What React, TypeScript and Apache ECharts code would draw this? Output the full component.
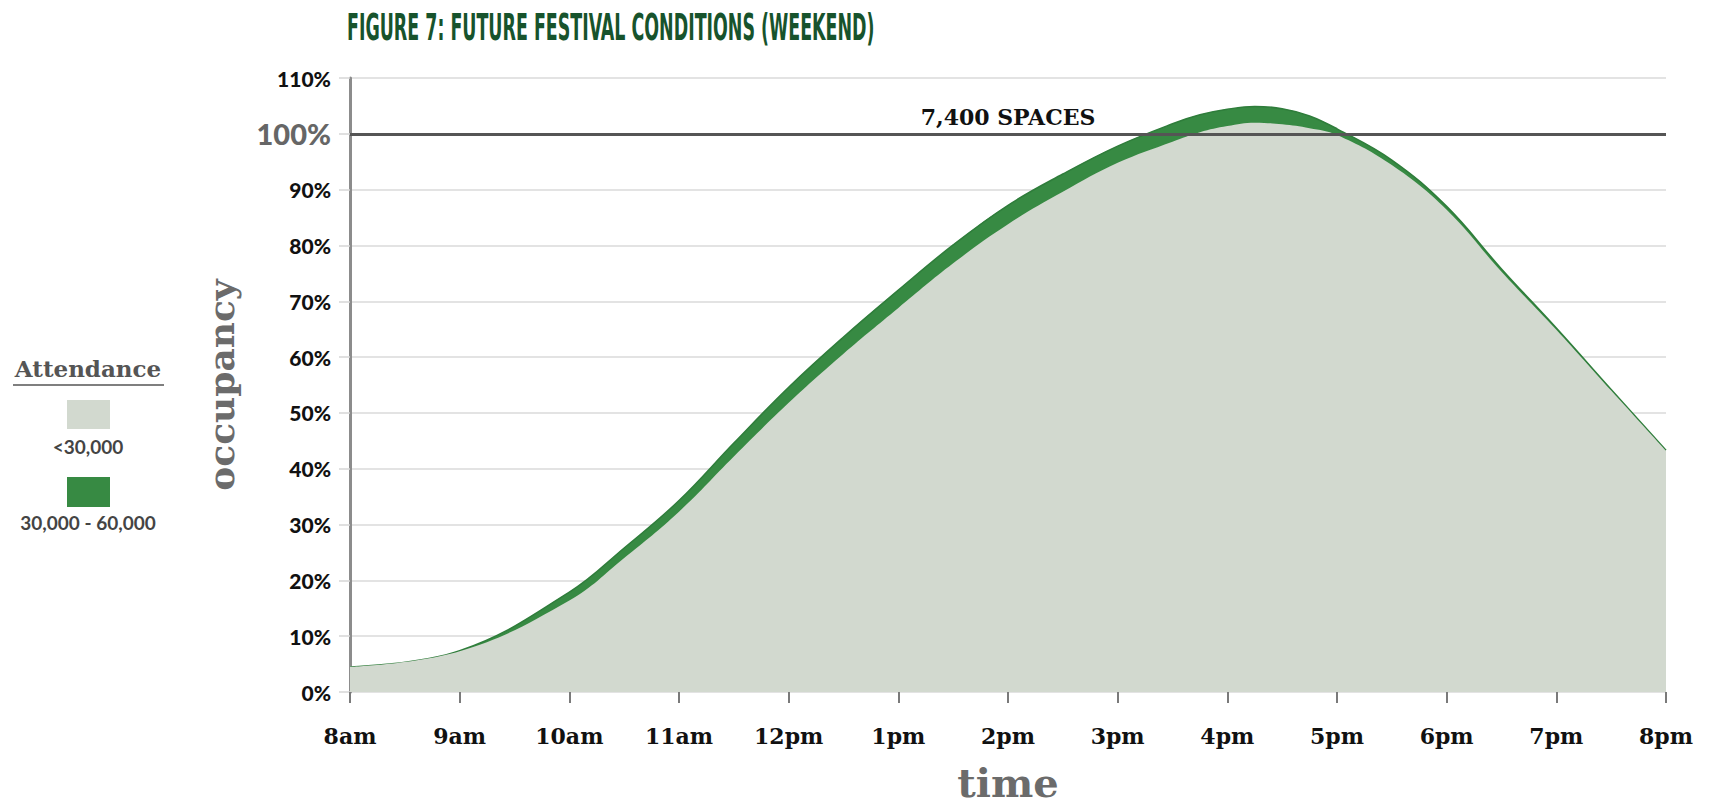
import React, { useEffect, useRef } from "react";
import * as echarts from "echarts";

const titleText = "FIGURE 7: FUTURE FESTIVAL CONDITIONS (WEEKEND)";
const hourLabels = ["8am", "9am", "10am", "11am", "12pm", "1pm", "2pm", "3pm", "4pm", "5pm", "6pm", "7pm", "8pm"];
const firstHour = 8;
const lastHour = 20;
// sample times (hours of the day)
const sampleTimes = [8, 9, 10, 10.5, 11, 11.5, 12, 12.5, 13, 13.5, 14, 14.5, 15, 15.5, 15.75, 16, 16.25, 16.5, 16.75, 17, 17.5, 18, 18.5, 19, 19.5, 20];
// occupancy (%) with attendance 30,000 - 60,000 (upper edge)
const peakOccupancy = [4.5, 7.4, 17.9, 25.8, 34.3, 44.6, 54.6, 63.6, 72.0, 80.1, 87.2, 92.8, 97.8, 101.8, 103.4, 104.4, 104.9, 104.5, 103.2, 100.9, 95.3, 87.0, 75.8, 65.2, 54.2, 43.3];
// occupancy (%) with attendance below 30,000
const baseOccupancy = [4.5, 7.3, 16.4, 24.0, 32.3, 42.2, 51.8, 60.6, 68.8, 76.8, 83.8, 89.6, 94.8, 98.6, 100.3, 101.4, 102.0, 101.7, 101.0, 99.8, 94.4, 86.4, 75.3, 64.9, 54.0, 43.2];
const seriesNames = ["<30,000", "30,000 - 60,000"];
const seriesColors = ["#d2d9cf", "#378a43"];
const legendTitle = "Attendance";
const capacityValue = 100;
const capacityLabel = "7,400 SPACES";
const yTicks = { min: 0, max: 110, interval: 10 };

const SERIF = "'DejaVu Serif', serif";
const SANS = "Lato, 'Open Sans', sans-serif";

export default function App() {
  const ref = useRef<HTMLDivElement>(null);
  useEffect(() => {
    document.body.style.margin = "0";
    if (!ref.current) return;
    const chart = echarts.init(ref.current, null, { renderer: "svg" });
    const peakData = sampleTimes.map((t, i) => [t, peakOccupancy[i]]);
    const baseData = sampleTimes.map((t, i) => [t, baseOccupancy[i]]);
    const option: any = {
      animation: false,
      backgroundColor: "#ffffff",
      grid: { left: 350, right: 46, top: 78, bottom: 113, containLabel: false },
      xAxis: {
        type: "value",
        min: firstHour,
        max: lastHour,
        interval: 1,
        name: "time",
        nameLocation: "middle",
        nameGap: 70,
        nameTextStyle: { fontFamily: SERIF, fontWeight: "bold", fontSize: 40, color: "#6b6b6b" },
        axisLine: { show: false },
        axisTick: { show: true, length: 11, lineStyle: { color: "#7a7a7a", width: 2 } },
        axisLabel: {
          margin: 33,
          showMinLabel: true,
          showMaxLabel: true,
          formatter: (v: number) => hourLabels[Math.round(v - firstHour)] ?? "",
          fontFamily: SERIF,
          fontWeight: "bold",
          fontSize: 22,
          color: "#111",
        },
        splitLine: { show: false },
      },
      yAxis: {
        type: "value",
        min: yTicks.min,
        max: yTicks.max,
        interval: yTicks.interval,
        name: "occupancy",
        nameLocation: "middle",
        nameGap: 111,
        nameRotate: 90,
        nameTextStyle: { fontFamily: SERIF, fontWeight: "bold", fontSize: 36, color: "#6b6b6b" },
        axisLine: { show: true, lineStyle: { color: "#8c8c8c", width: 3 } },
        axisTick: { show: true, length: 11, lineStyle: { color: "#d6d6d6", width: 1.5 } },
        axisLabel: {
          margin: 19,
          formatter: (v: number) => (v === capacityValue ? `{big|${v}%}` : `{n|${v}%}`),
          rich: {
            n: { fontFamily: SANS, fontWeight: 900, fontSize: 21, color: "#111" },
            big: { fontFamily: SANS, fontWeight: 900, fontSize: 29, color: "#666" },
          },
        },
        splitLine: { show: true, lineStyle: { color: "#dadada", width: 1.5 } },
      },
      series: [
        {
          type: "line",
          name: "capacity",
          data: [],
          z: 1,
          silent: true,
          markLine: {
            silent: true,
            symbol: "none",
            lineStyle: { color: "#555", width: 3, type: "solid" },
            label: {
              show: true,
              position: "insideMiddleTop",
              distance: 6,
              formatter: capacityLabel,
              fontFamily: SERIF,
              fontWeight: "bold",
              fontSize: 22,
              color: "#111",
            },
            data: [{ yAxis: capacityValue }],
          },
        },
        {
          type: "line",
          name: seriesNames[1],
          data: peakData,
          smooth: 0.4,
          symbol: "none",
          z: 2,
          lineStyle: { color: "#2f7d3b", width: 1.5 },
          areaStyle: { color: seriesColors[1], opacity: 1 },
        },
        {
          type: "line",
          name: seriesNames[0],
          data: baseData,
          smooth: 0.4,
          symbol: "none",
          z: 3,
          lineStyle: { width: 0 },
          areaStyle: { color: seriesColors[0], opacity: 1 },
        },
      ],
      graphic: [
        {
          type: "text",
          left: 347,
          top: 8,
          scaleX: 0.51,
          style: {
            text: titleText,
            fontFamily: "'Liberation Sans Narrow', 'DejaVu Sans Condensed', sans-serif",
            fontWeight: "bold",
            fontSize: 38,
            fill: "#17532c",
          },
        },
        {
          type: "text",
          x: 88,
          y: 368,
          style: {
            text: legendTitle,
            fontFamily: SERIF,
            fontWeight: "bold",
            fontSize: 23,
            fill: "#555",
            align: "center",
            verticalAlign: "middle",
          },
        },
        {
          type: "line",
          shape: { x1: 13, y1: 385, x2: 164, y2: 385 },
          style: { stroke: "#555", lineWidth: 1.5 },
        },
        {
          type: "rect",
          shape: { x: 67, y: 400, width: 43, height: 29 },
          style: { fill: seriesColors[0] },
        },
        {
          type: "text",
          x: 88,
          y: 446,
          style: {
            text: seriesNames[0],
            fontFamily: SANS,
            fontWeight: "bold",
            fontSize: 19,
            fill: "#444",
            align: "center",
            verticalAlign: "middle",
          },
        },
        {
          type: "rect",
          shape: { x: 67, y: 477, width: 43, height: 30 },
          style: { fill: seriesColors[1] },
        },
        {
          type: "text",
          x: 88,
          y: 522,
          style: {
            text: seriesNames[1],
            fontFamily: SANS,
            fontWeight: "bold",
            fontSize: 19,
            fill: "#444",
            align: "center",
            verticalAlign: "middle",
          },
        },
      ],
    };
    chart.setOption(option);
    return () => chart.dispose();
  }, []);
  return <div ref={ref} style={{ width: 1712, height: 807 }} />;
}
